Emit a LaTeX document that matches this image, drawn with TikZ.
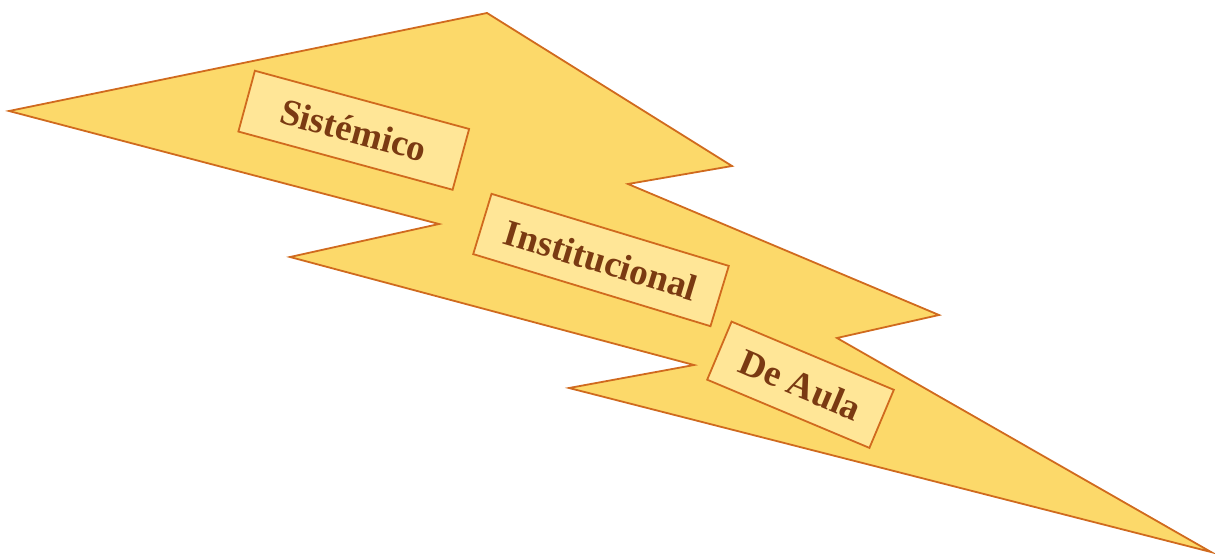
\documentclass[tikz,border=0pt]{standalone}
\usepackage{fontspec}
\setmainfont{Liberation Serif}
\definecolor{boltfill}{HTML}{FCD96A}
\definecolor{boltline}{HTML}{D06A1E}
\definecolor{boxfill}{HTML}{FFE697}
\definecolor{textcol}{HTML}{7A3A12}
\begin{document}
\begin{tikzpicture}[x=1pt,y=-1pt,
  levelbox/.style={draw=boltline, line width=1.8pt, fill=boxfill, inner sep=0pt,
    text=textcol, font=\fontsize{37}{40}\selectfont\bfseries, minimum height=63pt}]
\useasboundingbox (0,0) rectangle (1215,557);
\draw[fill=boltfill, draw=boltline, line width=1.8pt, line join=miter]
  (9,111) -- (487,13) -- (732,166) -- (628,184) -- (939,315) -- (837,338)
  -- (1211,552) -- (569,388) -- (694,365) -- (290,257) -- (439,224) -- cycle;
\node[levelbox, rotate=-15.2, minimum width=222pt] (sis) at (353.75,130.25) {Sistémico};
\node[levelbox, rotate=-16.9, minimum width=248pt] (ins) at (601,260) {Institucional};
\node[levelbox, rotate=-22.8, minimum width=176pt] (aula) at (800.5,384.75) {De Aula};
\end{tikzpicture}
\end{document}
